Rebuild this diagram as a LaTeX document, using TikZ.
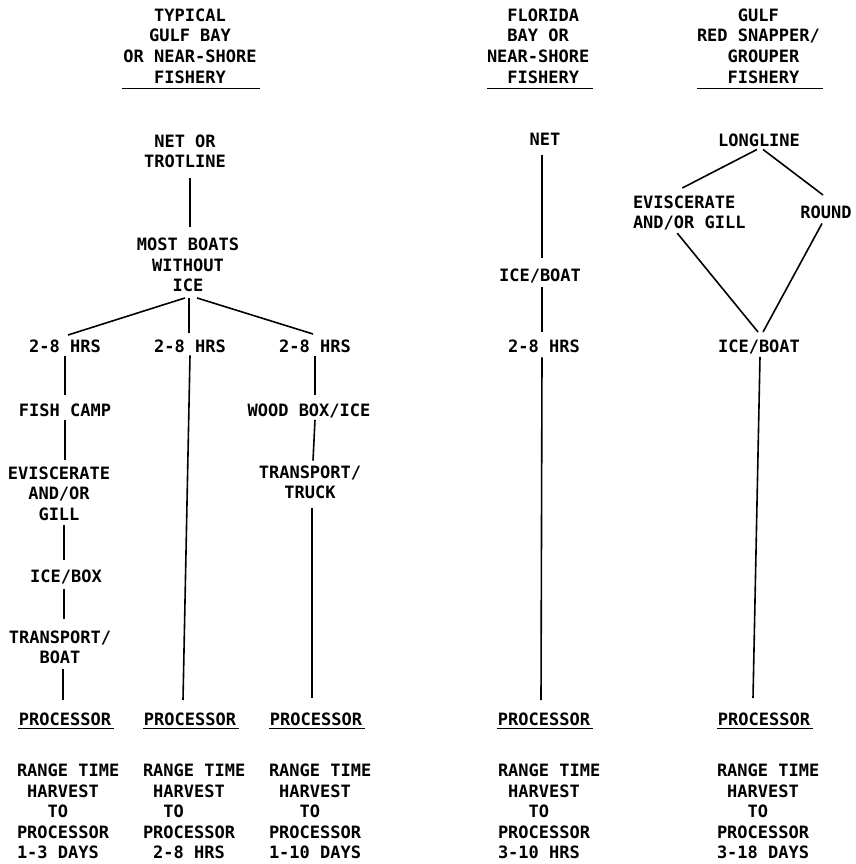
\documentclass[tikz,border=0pt]{standalone}
\usepackage{fontspec}
\newfontfamily\dmono{DejaVu Sans Mono Bold}
\newcommand\pp{\phantom{X}}
\begin{document}
\begin{tikzpicture}[x=1pt,y=-1pt,
  every node/.style={font=\dmono\fontsize{17}{20.4}\selectfont, inner sep=0pt, outer sep=0pt},
  lbl/.style={anchor=north, align=center},
  lblL/.style={anchor=north west, align=left},
  hdr/.style={font=\dmono\fontsize{17}{20.7}\selectfont},
  conn/.style={line width=1.6pt},
  uline/.style={line width=1.4pt}]
\useasboundingbox (0,0) rectangle (855,864);
% headers
\node[lbl,hdr] (h1) at (190,8.6) {TYPICAL\\GULF BAY\\OR NEAR-SHORE\\FISHERY};
\node[lblL,hdr] (h2) at (487,8.6) {\pp\pp FLORIDA\\\pp\pp BAY OR\\NEAR-SHORE\\\pp\pp FISHERY};
\node[lblL,hdr] (h3) at (697,8.6) {\pp\pp\pp\pp GULF\\RED SNAPPER/\\\pp\pp\pp GROUPER\\\pp\pp\pp FISHERY};
\draw[uline] ([xshift=-1.5pt,yshift=-5pt]h1.south west) -- ([xshift=3.5pt,yshift=-5pt]h1.south east);
\draw[uline] ([yshift=-5pt]h2.south west) -- ([xshift=4pt,yshift=-5pt]h2.south east);
\draw[uline] ([yshift=-5pt]h3.south west) -- ([xshift=3pt,yshift=-5pt]h3.south east);
% typical column
\node[lbl] (net1) at (185,134.6) {NET OR\\TROTLINE};
\node[lbl] (most) at (188,238.3) {MOST BOATS\\WITHOUT\\ICE};
\node[lbl] (r1) at (65,340.3) {2-8 HRS};
\node[lbl] (r2) at (190,340.3) {2-8 HRS};
\node[lbl] (r3) at (315,340.3) {2-8 HRS};
\node[lbl] (fish) at (65,404.3) {FISH CAMP};
\node[lbl] (evis1) at (59,466.6) {EVISCERATE\\AND/OR\\GILL};
\node[lbl] (icebox) at (66,570.3) {ICE/BOX};
\node[lbl] (trans1) at (60,630.6) {TRANSPORT/\\BOAT};
\node[lbl] (wood) at (309,404.3) {WOOD BOX/ICE};
\node[lbl] (trans3) at (310,465.6) {TRANSPORT/\\TRUCK};
\node[lbl] (proc1) at (65,712.6) {PROCESSOR};
\node[lbl] (proc2) at (190,712.6) {PROCESSOR};
\node[lbl] (proc3) at (316,712.6) {PROCESSOR};
\node[lblL] (range1) at (17,764.3) {RANGE TIME\\\pp HARVEST\\\pp\pp\pp TO\\PROCESSOR\\1-3 DAYS};
\node[lblL] (range2) at (143,764.3) {RANGE TIME\\\pp HARVEST\\\pp\pp TO\\PROCESSOR\\\pp 2-8 HRS};
\node[lblL] (range3) at (269,764.3) {RANGE TIME\\\pp HARVEST\\\pp\pp\pp TO\\PROCESSOR\\1-10 DAYS};
% florida column
\node[lbl] (fnet) at (545,133.6) {NET};
\node[lbl] (fice) at (540,268.6) {ICE/BOAT};
\node[lbl] (fr) at (544,340.3) {2-8 HRS};
\node[lbl] (fproc) at (544,712.6) {PROCESSOR};
\node[lblL] (frange) at (498,764.3) {RANGE TIME\\\pp HARVEST\\\pp\pp\pp TO\\PROCESSOR\\3-10 HRS};
% gulf column
\node[lbl] (long) at (759,133.6) {LONGLINE};
\node[lblL] (evis2) at (633,195.6) {EVISCERATE\\AND/OR GILL};
\node[lbl] (round) at (826,205.6) {ROUND};
\node[lbl] (gice) at (759,340.3) {ICE/BOAT};
\node[lbl] (gproc) at (764,712.6) {PROCESSOR};
\node[lblL] (grange) at (717,764.3) {RANGE TIME\\\pp HARVEST\\\pp\pp\pp TO\\PROCESSOR\\3-18 DAYS};
% processor underlines
\foreach \p in {proc1,proc2,proc3,fproc,gproc}
  \draw[uline] ([xshift=-1pt,yshift=-3pt]\p.south west) -- ([xshift=3pt,yshift=-3pt]\p.south east);
% connectors
\draw[conn] ([xshift=5pt,yshift=-10pt]net1.south) -- ([xshift=2pt,yshift=11.3pt]most.north);
\draw[conn] ([xshift=-3pt,yshift=-6pt]most.south) -- ([xshift=3pt,yshift=5.3pt]r1.north);
\draw[conn] ([xshift=1pt,yshift=-6pt]most.south) -- ([xshift=-1pt,yshift=7.3pt]r2.north);
\draw[conn] ([xshift=9pt,yshift=-6pt]most.south) -- ([xshift=-2pt,yshift=6.3pt]r3.north);
\draw[conn] ([yshift=-3.3pt]r1.south) -- ([yshift=9.3pt]fish.north);
\draw[conn] ([yshift=-3.3pt]fish.south) -- ([xshift=6pt,yshift=6.6pt]evis1.north);
\draw[conn] ([xshift=5pt,yshift=-5pt]evis1.south) -- ([xshift=-2pt,yshift=10.3pt]icebox.north);
\draw[conn] ([xshift=-2pt,yshift=-4pt]icebox.south) -- ([xshift=4pt,yshift=12pt]trans1.north);
\draw[conn] ([xshift=3pt,yshift=-5pt]trans1.south) -- ([xshift=-2pt,yshift=12.6pt]proc1.north);
\draw[conn] ([yshift=-2.3pt]r2.south) -- ([xshift=-7pt,yshift=12.6pt]proc2.north);
\draw[conn] ([yshift=-3.3pt]r3.south) -- ([xshift=6pt,yshift=9.3pt]wood.north);
\draw[conn] ([xshift=6pt,yshift=-1.3pt]wood.south) -- ([xshift=3pt,yshift=5pt]trans3.north);
\draw[conn] ([xshift=2pt,yshift=-9pt]trans3.south) -- ([xshift=-4pt,yshift=14.6pt]proc3.north);
\draw[conn] ([xshift=-3pt,yshift=-9pt]fnet.south) -- ([xshift=2pt,yshift=10.6pt]fice.north);
\draw[conn] ([xshift=2pt,yshift=-4pt]fice.south) -- ([xshift=-2pt,yshift=8.3pt]fr.north);
\draw[conn] ([xshift=-2pt,yshift=-4.3pt]fr.south) -- ([xshift=-3pt,yshift=12.6pt]fproc.north);
\draw[conn] ([xshift=-2pt,yshift=-3pt]long.south) -- ([xshift=-7pt,yshift=7.6pt]evis2.north);
\draw[conn] ([xshift=4pt,yshift=-3pt]long.south) -- ([xshift=-3pt,yshift=10.6pt]round.north);
\draw[conn] ([xshift=-12pt,yshift=-3pt]evis2.south) -- ([xshift=-1pt,yshift=8.3pt]gice.north);
\draw[conn] ([xshift=-4pt,yshift=-5pt]round.south) -- ([xshift=4pt,yshift=8.3pt]gice.north);
\draw[conn] ([xshift=1pt,yshift=-2.3pt]gice.south) -- ([xshift=-11pt,yshift=14.6pt]gproc.north);
\end{tikzpicture}
\end{document}
